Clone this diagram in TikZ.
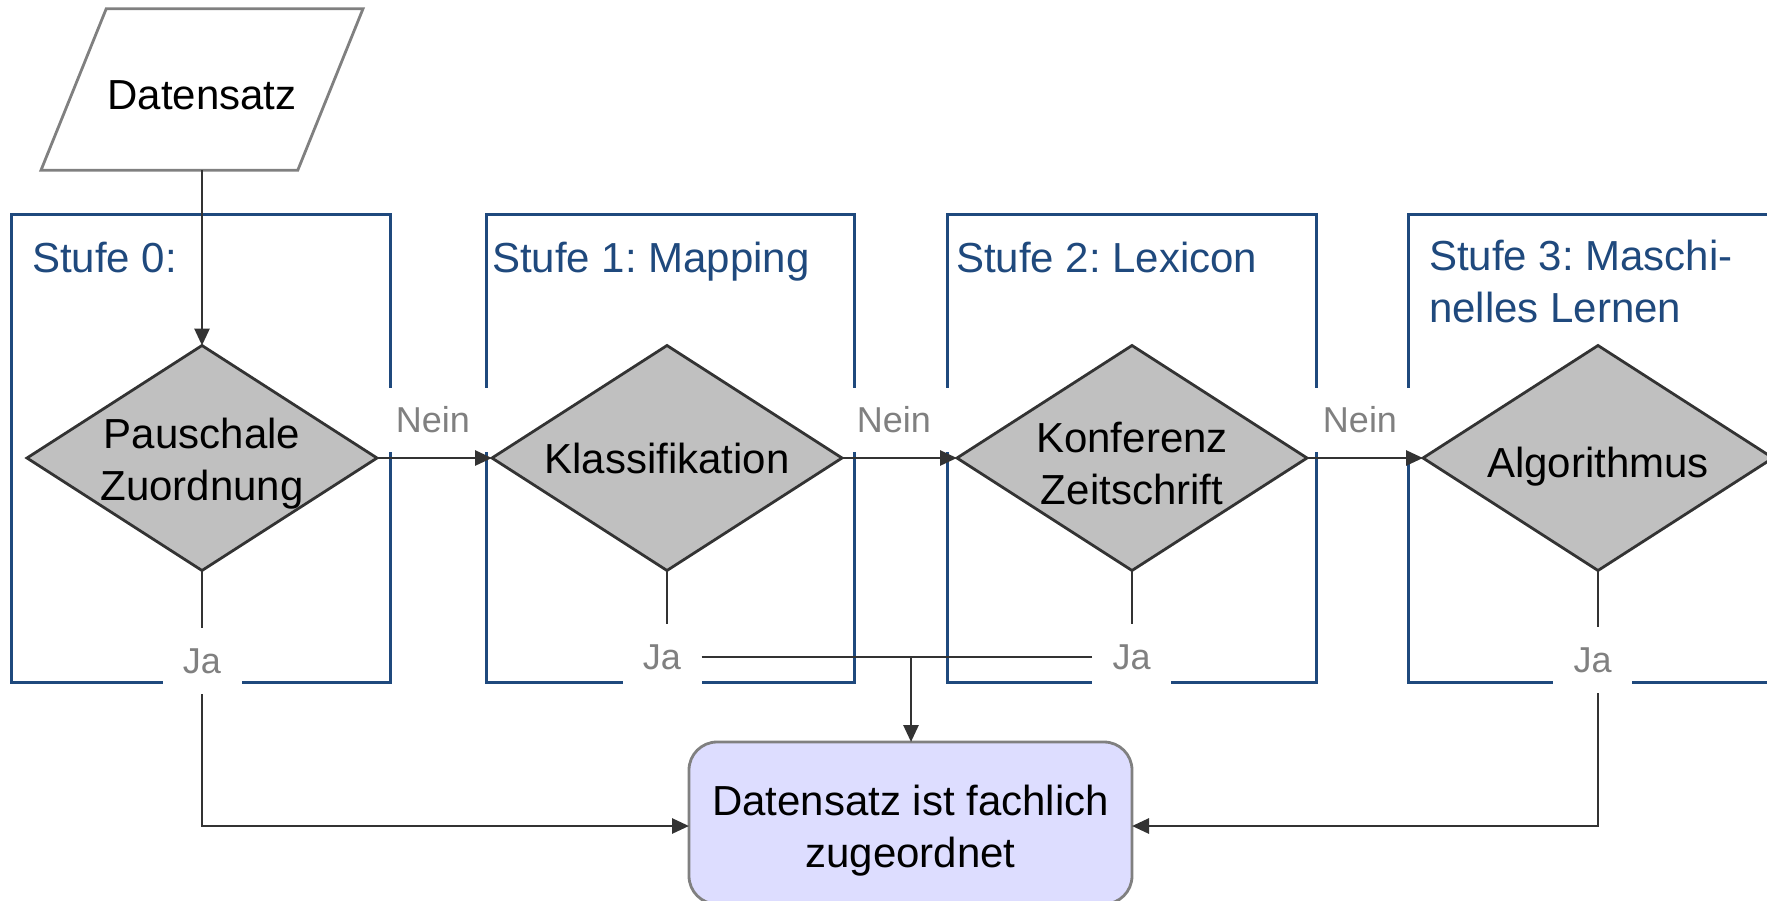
\documentclass[tikz,border=0pt]{standalone}
\usepackage{fontspec}
\setmainfont{Liberation Sans}
\frenchspacing
\usetikzlibrary{shapes.geometric,arrows.meta}

\definecolor{stageblue}{RGB}{31,73,125}
\definecolor{linegray}{RGB}{51,51,51}
\definecolor{labelgray}{RGB}{128,128,128}
\definecolor{decisionfill}{RGB}{192,192,192}
\definecolor{resultfill}{RGB}{221,221,255}

\tikzset{
  every node/.style={outer sep=0pt, inner sep=0pt},
  bigtext/.style={font=\fontsize{42pt}{52pt}\selectfont},
  smalltext/.style={font=\fontsize{36pt}{43pt}\selectfont},
  stagebox/.style={rectangle, draw=stageblue, line width=3pt, minimum height=468pt},
  stagelabel/.style={bigtext, text=stageblue, align=left},
  decision/.style={diamond, draw=linegray, fill=decisionfill, line width=2.8pt,
    minimum width=350pt, minimum height=225pt, shape aspect=1.556,
    inner sep=-20pt, bigtext, align=center},
  inputbox/.style={trapezium, trapezium left angle=68, trapezium right angle=112,
    trapezium stretches body, draw=labelgray, fill=white, line width=2.8pt,
    inner xsep=0pt, inner ysep=60pt, minimum width=322pt, minimum height=161pt, bigtext},
  result/.style={rectangle, rounded corners=28pt, draw=labelgray, fill=resultfill,
    line width=2.8pt, minimum width=443pt, minimum height=162pt, bigtext, align=center},
  nein/.style={smalltext, text=labelgray, fill=white, minimum width=114pt, minimum height=64pt},
  ja/.style={smalltext, text=labelgray, fill=white, minimum width=79pt, minimum height=66pt},
  conn/.style={draw=linegray, line width=2.8pt},
  flow/.style={conn, -{Triangle[length=17pt,width=15pt]}},
}

\begin{document}
\begin{tikzpicture}[x=1pt, y=-1pt]
  \useasboundingbox (0,0) rectangle (1767,900);
  \clip (0,0) rectangle (1767,900);

  % stage frames
  \node[stagebox, minimum width=379pt] (s0) at (200.5,448) {};
  \node[stagebox, minimum width=368pt] (s1) at (670,448) {};
  \node[stagebox, minimum width=369pt] (s2) at (1131.5,448) {};
  \node[stagebox, minimum width=369pt] (s3) at (1592.5,448) {};

  % stage titles
  \node[stagelabel, anchor=base west] (l0) at (32,272) {Stufe 0:};
  \node[stagelabel, anchor=base west] (l1) at (492,272) {Stufe 1: Mapping};
  \node[stagelabel, anchor=base west] (l2) at (956,272) {Stufe 2: Lexicon};
  \node[stagelabel, anchor=north west] (l3) at (1429,240) {Stufe 3: Maschi-\\nelles Lernen};

  % input
  \node[inputbox] (inp) at (202,89.5) {\rule{0pt}{41pt}Datensatz};

  % decisions
  \node[decision] (d0) at (202,458) {\rule{0pt}{40.8pt}Pauschale\\Zuordnung};
  \node[decision] (d1) at (667,458) {Klassifikation};
  \node[decision] (d2) at (1132,458) {\rule{0pt}{42pt}Konferenz\\Zeitschrift};
  \node[decision] (d3) at (1598,458) {\rule{0pt}{46.8pt}Algorithmus};

  % result
  \node[result] (fin) at (910.5,823) {\rule{0pt}{44.8pt}Datensatz ist fachlich\\zugeordnet};

  % branch labels
  \node[nein] (n0) at (433,420) {Nein};
  \node[nein] (n1) at (894,420) {Nein};
  \node[nein] (n2) at (1360,420) {Nein};
  \node[ja] (J0) at (202,661) {Ja};
  \node[ja] (J1) at (662,657) {Ja};
  \node[ja] (J2) at (1131.5,657) {Ja};
  \node[ja] (J3) at (1592.5,660) {Ja};

  % bends
  \coordinate (c0) at (202,826);
  \coordinate (c3) at (1598,826);
  \coordinate (m) at (911,657);

  % connectors
  \draw[flow] (d0.north |- inp.bottom side) -- (d0.north);
  \draw[flow] (d0.east) -- (d1.west);
  \draw[flow] (d1.east) -- (d2.west);
  \draw[flow] (d2.east) -- (d3.west);

  \draw[conn] (d0.south) -- (J0.north);
  \draw[conn] (d1.south) -- (d1.south |- J1.north);
  \draw[conn] (d2.south) -- (d2.south |- J2.north);
  \draw[conn] (d3.south) -- (d3.south |- J3.north);

  \draw[flow] (J0.south) -- (c0) -- (c0 -| fin.west);
  \draw[flow] (d3.south |- J3.south) -- (c3) -- (c3 -| fin.east);
  \draw[conn] (J1.east) -- (m);
  \draw[conn] (J2.west) -- (m);
  \draw[flow] (m) -- (m |- fin.north);
\end{tikzpicture}
\end{document}
